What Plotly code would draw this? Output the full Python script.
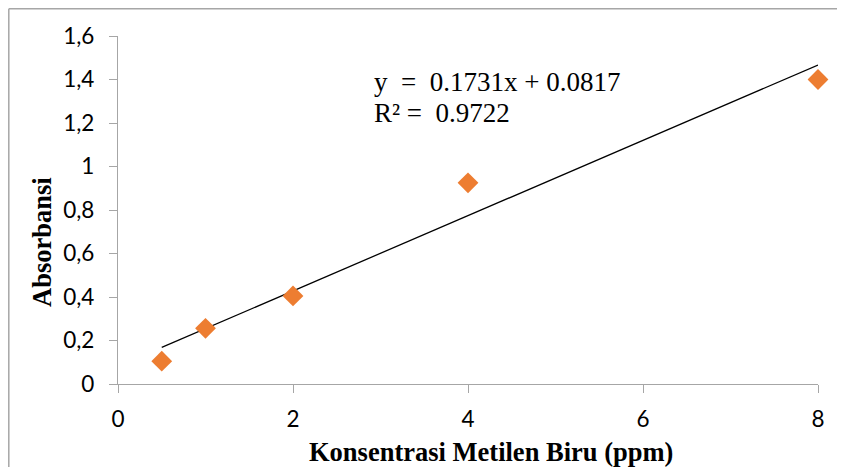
import plotly.graph_objects as go

conc = [0.5, 1, 2, 4, 8]
absorb = [0.105, 0.256, 0.405, 0.925, 1.4]
slope = 0.1731
intercept = 0.0817
trend_x = [0.5, 8]
trend_y = [slope * v + intercept for v in trend_x]
y_ticks = [0, 0.2, 0.4, 0.6, 0.8, 1.0, 1.2, 1.4, 1.6]
y_tick_labels = ["0", "0,2", "0,4", "0,6", "0,8", "1", "1,2", "1,4", "1,6"]
x_ticks = [0, 2, 4, 6, 8]

fig = go.Figure()
fig.add_trace(go.Scatter(x=trend_x, y=trend_y, mode="lines", cliponaxis=False,
                         line=dict(color="black", width=1.3), showlegend=False))
fig.add_trace(go.Scatter(x=conc, y=absorb, mode="markers", cliponaxis=False,
                         marker=dict(symbol="diamond", size=16, color="#ED7D31"),
                         showlegend=False))

axis_common = dict(showgrid=False, zeroline=False, showline=True, linecolor="#a6a6a6",
                   linewidth=1.3, ticks="outside", ticklen=8, tickcolor="#a6a6a6",
                   tickwidth=1.3, tickfont=dict(family="Lato", size=22.5, color="black"))

border_left = -109.2 / 700
border_top = 1 + 27.2 / 348
border_style = dict(color="#a6a6a6", width=1.5)

# page offset of 8px (body margin) is compensated in the size and margins
fig.update_layout(
    width=829, height=459,
    margin=dict(l=110, r=19, t=28, b=83),
    plot_bgcolor="white", paper_bgcolor="white",
    xaxis=dict(range=[0, 8], tickvals=x_ticks, ticklabelstandoff=7, **axis_common),
    yaxis=dict(range=[0, 1.6], tickvals=y_ticks, ticktext=y_tick_labels,
               ticklabelstandoff=10, **axis_common),
    shapes=[
        dict(type="line", xref="paper", yref="paper", x0=border_left, x1=1.3,
             y0=border_top, y1=border_top, line=border_style),
        dict(type="line", xref="paper", yref="paper", x0=border_left, x1=border_left,
             y0=border_top, y1=-0.5, line=border_style),
    ],
    annotations=[
        dict(text="y  =  0.1731x + 0.0817", x=2.903, y=1.389, xref="x", yref="y",
             xanchor="left", yanchor="middle", showarrow=False,
             font=dict(family="Liberation Serif", size=27, color="black")),
        dict(text="R² =  0.9722", x=2.903, y=1.246, xref="x", yref="y",
             xanchor="left", yanchor="middle", showarrow=False,
             font=dict(family="Liberation Serif", size=27, color="black")),
        dict(text="<b>Konsentrasi Metilen Biru (ppm)</b>", x=(491 - 118) / 700,
             y=(384 - 452) / 348, xref="paper", yref="paper", xanchor="center",
             yanchor="middle", showarrow=False,
             font=dict(family="Liberation Serif", size=26.5, color="black")),
        dict(text="<b>Absorbansi</b>", x=(42 - 118) / 700, y=(384 - 242) / 348,
             xref="paper", yref="paper", xanchor="center", yanchor="middle",
             textangle=-90, showarrow=False,
             font=dict(family="Liberation Serif", size=26.5, color="black")),
    ],
)

fig.write_html("out.html")
